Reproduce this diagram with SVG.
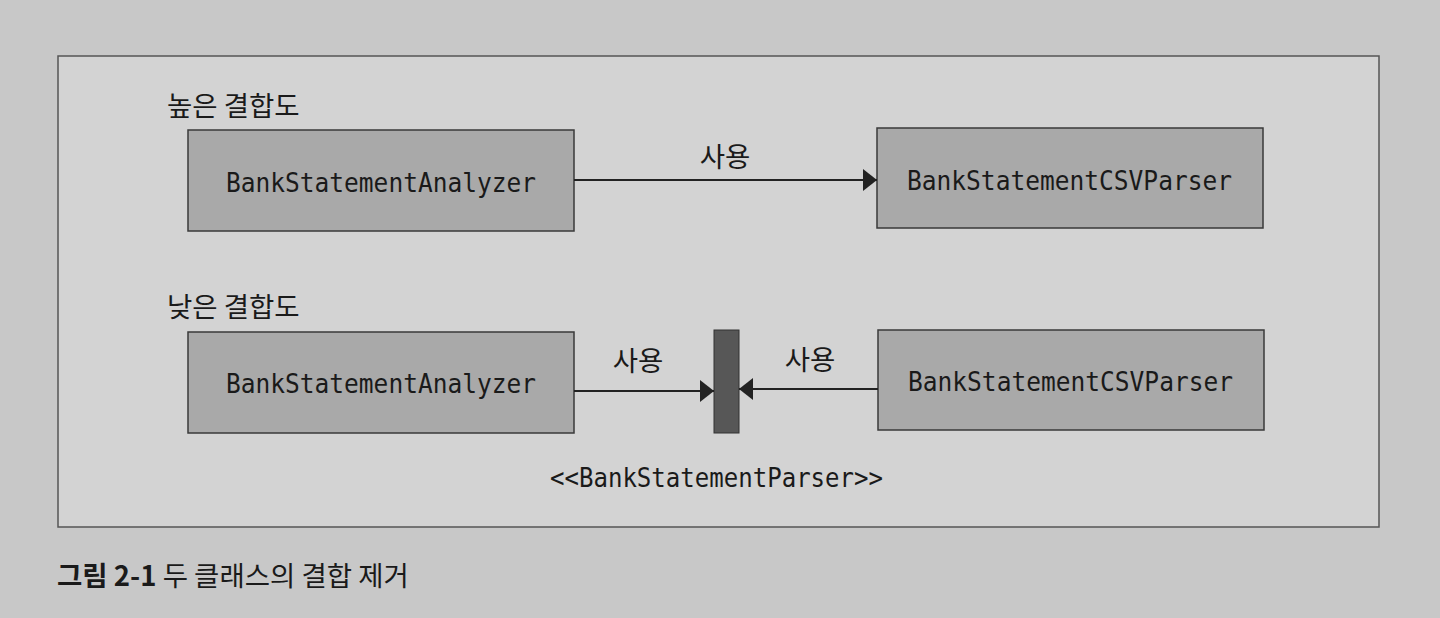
<svg xmlns="http://www.w3.org/2000/svg" width="1440" height="618" viewBox="0 0 1440 618">
<defs>
<marker id="ah" viewBox="0 0 14 22" refX="14" refY="11" markerWidth="14" markerHeight="22" markerUnits="userSpaceOnUse" orient="auto">
<path d="M0,0 L14,11 L0,22 Z" fill="#222"/>
</marker>
</defs>
<style>
.cls{fill:#a9a9a9;stroke:#3a3a3a;stroke-width:1.5}
.mono{font-family:"DejaVu Sans Mono","Liberation Mono",monospace;font-size:27px;fill:#1a1a1a}
.ko{font-family:"Noto Sans CJK KR","Noto Sans",sans-serif;font-size:27.5px;fill:#1a1a1a}
.line{stroke:#222;stroke-width:2;fill:none;marker-end:url(#ah)}
</style>
<rect x="0" y="0" width="1440" height="618" fill="#c8c8c8"/>
<rect id="frame" x="58" y="56" width="1321" height="471" fill="#d3d3d3" stroke="#555" stroke-width="1.5"/>
<text class="ko" x="167" y="116">높은 결합도</text>
<text class="ko" x="167" y="317">낮은 결합도</text>
<g id="analyzer1">
<rect class="cls" x="188" y="130" width="386" height="101"/>
<text class="mono" x="226" y="192" textLength="310" lengthAdjust="spacingAndGlyphs">BankStatementAnalyzer</text>
</g>
<g id="csvparser1">
<rect class="cls" x="877" y="128" width="386" height="100"/>
<text class="mono" x="907" y="190" textLength="325" lengthAdjust="spacingAndGlyphs">BankStatementCSVParser</text>
</g>
<g id="analyzer2">
<rect class="cls" x="188" y="332" width="386" height="101"/>
<text class="mono" x="226" y="393" textLength="310" lengthAdjust="spacingAndGlyphs">BankStatementAnalyzer</text>
</g>
<g id="csvparser2">
<rect class="cls" x="878" y="330" width="386" height="100"/>
<text class="mono" x="908" y="391" textLength="325" lengthAdjust="spacingAndGlyphs">BankStatementCSVParser</text>
</g>
<g id="interface">
<rect x="714" y="330" width="25" height="103" fill="#575757" stroke="#333" stroke-width="1"/>
<text class="mono" x="550" y="487" textLength="333" lengthAdjust="spacingAndGlyphs">&lt;&lt;BankStatementParser&gt;&gt;</text>
</g>
<g id="connectors">
<line class="line" x1="574" y1="180" x2="877" y2="180"/>
<text class="ko" x="725" y="167" text-anchor="middle">사용</text>
<line class="line" x1="574" y1="391" x2="714" y2="391"/>
<text class="ko" x="638" y="371" text-anchor="middle">사용</text>
<line class="line" x1="878" y1="389" x2="739" y2="389"/>
<text class="ko" x="810" y="370" text-anchor="middle">사용</text>
</g>
<text x="57" y="586" font-family="'Noto Sans CJK KR','Noto Sans',sans-serif" font-size="27.5" fill="#1a1a1a"><tspan font-weight="bold">그림 2-1</tspan> 두 클래스의 결합 제거</text>
</svg>
